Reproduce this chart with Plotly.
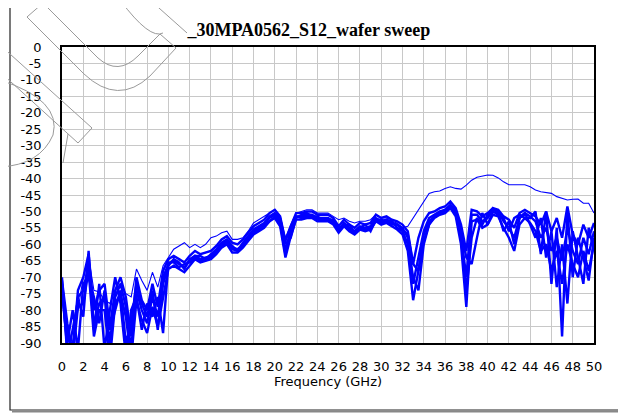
import plotly.graph_objects as go

freq = [i * 0.5 for i in range(101)]  # GHz, 0 .. 50

# outlier trace (upper line above 32 GHz)
s12_hi = [-74, -86, -90, -80, -70, -64, -74, -74.5, -77, -78,
          -74, -72, -75, -76, -67.5, -71, -74, -68.5, -73, -66.5,
          -64, -61.5, -60.5, -59.5, -61, -60, -61, -60, -58, -57.5,
          -56.5, -56, -58.5, -58.5, -58, -56, -53.5, -52.5, -51.5, -50.5,
          -49.5, -51.5, -58, -54, -50.5, -50, -49.5, -49.5, -50.5, -50.5,
          -50.5, -51.5, -52.5, -52, -53, -53.5, -53, -53, -52.5, -51,
          -52, -52, -53, -53.5, -55, -54.5, -52, -49.5, -47, -44.5,
          -44, -43.8, -43, -42.5, -43, -43.2, -42, -40.5, -39.6, -39.2,
          -38.9, -39, -39.8, -41, -41.9, -41.9, -42, -41.9, -42.5, -43.5,
          -44, -44.2, -44.5, -45.5, -46, -46.5, -46.3, -46.2, -47.5, -47.5,
          -50.5]

s12_a = [-71, -84, -93, -74, -70, -63, -80, -74, -72, -85,
         -74, -70, -76, -88, -70, -77, -80, -72, -79, -68,
         -64.5, -63.5, -64.5, -65.5, -63.5, -62, -63, -62.5, -62, -60.5,
         -58.5, -57.5, -59.5, -60, -58.5, -56.5, -54.5, -53.5, -52.5, -50.5,
         -49.5, -51.5, -59, -54.5, -50.5, -50.5, -50, -50, -51, -51,
         -51, -52, -54.5, -52.5, -54, -55, -53.5, -54, -53.5, -51,
         -52, -51.5, -52.5, -53, -54, -56, -66, -58, -53, -50.5,
         -50, -49, -48.5, -47, -49, -54, -62, -49.5, -50, -51.5,
         -50.5, -49, -49.5, -51.5, -52.5, -55, -50.5, -49.5, -50.5, -51.5,
         -54, -50, -56, -52, -58, -48.5, -57, -60, -54, -58,
         -53.5]

s12_b = [-72, -88, -92, -76, -74, -66, -85, -78, -76, -90,
         -76, -72, -79, -92, -74, -80, -84, -76, -82, -70,
         -66, -65, -66, -67, -65, -63.5, -64.5, -64, -63.5, -62,
         -60, -59, -61, -61.5, -60, -58, -56, -55, -54, -52,
         -51, -53, -62, -56, -51.5, -51.5, -51, -51, -52, -52,
         -52, -53, -55.5, -53.5, -55, -56, -54.5, -55, -54.5, -52,
         -53, -52.5, -53.5, -54, -55, -58, -72, -64, -56, -52,
         -51, -50, -49.5, -48, -50, -57, -70, -51, -51, -53,
         -52, -49.5, -50, -53, -55, -58, -52, -50.5, -51.5, -53,
         -58, -55, -62, -58, -65, -55, -62, -66, -58, -63,
         -56]

s12_c = [-73, -92, -95, -79, -78, -68, -88, -80, -80, -95,
         -78, -75, -82, -95, -77, -83, -87, -79, -85, -76,
         -67.5, -66.5, -67.5, -68.5, -66.5, -64.5, -65.5, -65, -64.5, -63,
         -61, -60, -62.5, -62.5, -61, -59, -57, -56, -55, -53,
         -52, -54.5, -64, -57.5, -52.5, -52.5, -52, -52, -53, -53,
         -53, -54, -56.5, -54.5, -56, -57, -55.5, -56, -55.5, -53,
         -54, -53.5, -54.5, -55.5, -57, -62, -77, -68, -59, -54,
         -52, -51, -50.5, -49, -51.5, -60, -79, -53, -52.5, -55,
         -54, -51, -51.5, -55, -58, -62, -54, -52, -53.5, -56,
         -62, -60, -68, -62, -72, -60, -66, -70, -62, -68,
         -60]

s12_d = [-75, -90, -80, -92, -72, -70, -76, -84, -74, -86,
         -80, -74, -90, -84, -72, -78, -82, -74, -86, -72,
         -66.5, -64.5, -65.5, -67.5, -64.5, -63.5, -63.5, -64.5, -63, -61.5,
         -59.5, -58.5, -60.5, -62, -59.5, -57.5, -55.5, -54.5, -53.5, -51.5,
         -50.5, -52, -60, -58, -52, -51, -50.5, -51.5, -51.5, -52.5,
         -52.5, -52.5, -55, -54.5, -54, -56.5, -55, -54, -56, -52.5,
         -52.5, -53, -53, -55, -56, -60, -70, -74, -60, -54,
         -51.5, -50.5, -49.5, -48.5, -49.5, -56, -64, -66, -58, -50.5,
         -54, -50, -51, -52, -56, -52, -51, -52, -52, -50,
         -63, -50, -72, -55, -88, -50, -70, -58, -64, -71,
         -58]

s12_e = [-70, -94, -86, -77, -82, -62, -86, -72, -92, -80,
         -70, -78, -94, -80, -76, -86, -78, -82, -76, -87,
         -65.5, -65.5, -67, -66, -65.5, -64, -65, -64.5, -64, -62.5,
         -60.5, -59.5, -61.5, -62, -60.5, -58.5, -56.5, -55.5, -54.5, -53,
         -51.5, -53.5, -63, -55, -51.5, -52, -51.5, -51.5, -52.5, -52.5,
         -52.5, -53.5, -56, -54, -55.5, -56.5, -55, -55.5, -55, -52.5,
         -53.5, -53, -54, -54, -55.5, -57, -66, -68, -57, -53,
         -51.5, -50.5, -50, -48.5, -50.5, -58, -74, -58, -52, -54,
         -51, -49, -50.5, -56, -53, -60, -52, -50.5, -54, -58,
         -52, -64, -56, -73, -60, -78, -56, -64, -72, -55,
         -62]

series = [s12_a, s12_b, s12_c, s12_d, s12_e]

y_ticks = list(range(0, -95, -5))
x_ticks = list(range(0, 52, 2))

fig = go.Figure()
for s in series:
    fig.add_trace(go.Scatter(x=freq, y=s, mode="lines",
                             line=dict(color="#0000FF", width=2.4),
                             showlegend=False, hoverinfo="skip"))
fig.add_trace(go.Scatter(x=freq, y=s12_hi, mode="lines",
                         line=dict(color="#0000FF", width=1.1),
                         showlegend=False, hoverinfo="skip"))

# page body adds an 8 px offset; figure coordinates = screen - 8
OFF = 8
W, H = 626 - OFF, 413 - OFF
L, T = 62 - OFF, 47 - OFF
pw, ph = 532, 296
R, B = W - L - pw, H - T - ph


def px(x):
    return (x - OFF - L) / pw


def py(y):
    return (H - B - (y - OFF)) / ph


def path(cmds):
    out = []
    for c in cmds:
        if isinstance(c, str):
            out.append(c)
        else:
            out.append(f"{px(c[0]):.4f},{py(c[1]):.4f}")
    return " ".join(out)


wm = dict(color="#9a9a9a", width=1)
watermark = [
    # upper U-shaped arrow outline
    path(["M", (27, 17), "L", (43, 3), "L", (98, 58), "Q", (118, 76), (138, 56),
          "L", (160, 34), "L", (176, 48), "L", (150, 76), "Q", (118, 106), (84, 74), "Z"]),
    path(["M", (120, 0), "Q", (150, 40), (163, 33)]),
    path(["M", (150, 0), "L", (187, 33)]),
    # lower-left strip and arc
    path(["M", (0, 45), "L", (92, 128), "L", (78, 143), "L", (0, 72)]),
    path(["M", (0, 80), "Q", (62, 100), (53, 135), "Q", (40, 165), (0, 167)]),
    path(["M", (68, 134), "L", (63, 163)]),
]

shapes = [
    dict(type="rect", xref="paper", yref="paper",
         x0=px(10), x1=px(620), y0=py(410), y1=py(3),
         line=dict(color="#222222", width=1.2), layer="below"),
    dict(type="line", xref="paper", yref="paper",
         x0=px(621.5), x1=px(621.5), y0=py(411.5), y1=py(5),
         line=dict(color="#888888", width=2)),
    dict(type="line", xref="paper", yref="paper",
         x0=px(12), x1=px(621.5), y0=py(411.5), y1=py(411.5),
         line=dict(color="#888888", width=2)),
] + [dict(type="path", xref="paper", yref="paper", path=p, line=wm, layer="above")
     for p in watermark]

fig.update_layout(
    width=W, height=H,
    margin=dict(l=L, r=R, t=T, b=B, autoexpand=False),
    paper_bgcolor="white", plot_bgcolor="white",
    title=dict(text="<b>_30MPA0562_S12_wafer sweep</b>",
               font=dict(family="Liberation Serif", size=18, color="black"),
               x=px(321), xanchor="center", y=1 - (30 - OFF) / H, yanchor="middle"),
    font=dict(family="DejaVu Sans", size=13, color="black"),
    shapes=shapes,
)
fig.update_xaxes(range=[0, 50], tickvals=x_ticks, ticktext=[str(v) for v in x_ticks],
                 tickfont=dict(family="DejaVu Sans", size=13),
                 showgrid=True, gridcolor="#c8c8c8", gridwidth=1.2,
                 showline=True, linecolor="black", linewidth=1.5, mirror=True,
                 zeroline=False, ticks="", ticklabelstandoff=11, automargin=False,
                 title=dict(text="Frequency (GHz)", standoff=3,
                            font=dict(family="DejaVu Sans", size=13)))
fig.update_yaxes(range=[-90, 0], tickvals=y_ticks,
                 ticktext=[str(v) for v in y_ticks],
                 tickfont=dict(family="DejaVu Sans", size=13),
                 showgrid=True, gridcolor="#c8c8c8", gridwidth=1.2,
                 showline=True, linecolor="black", linewidth=1.5, mirror=True,
                 zeroline=False, ticks="", ticklabelstandoff=16, automargin=False)

fig.write_html("out.html")
